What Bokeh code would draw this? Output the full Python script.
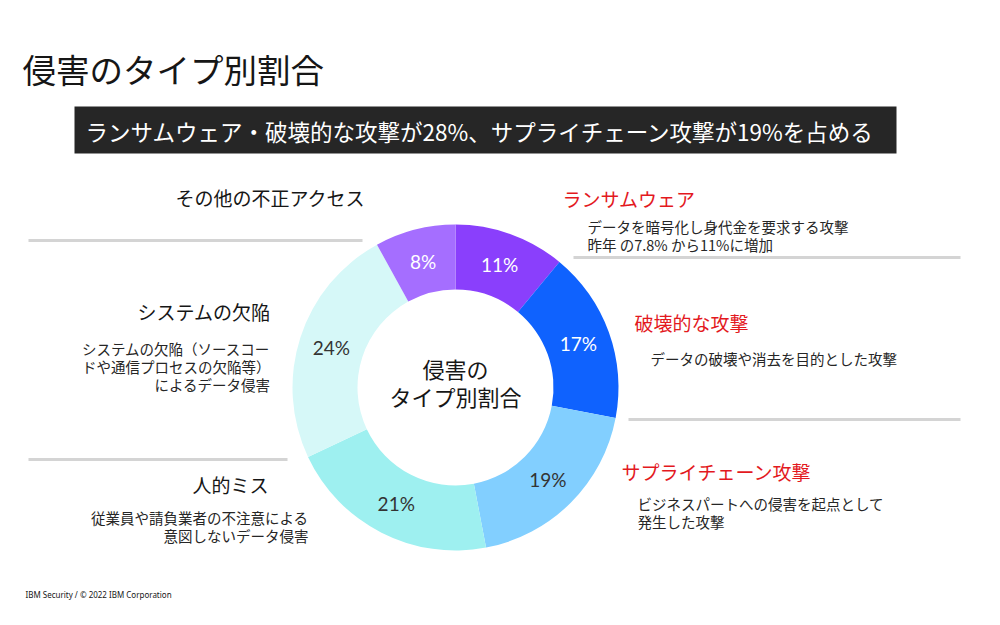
import math
from bokeh.plotting import figure
from bokeh.models import Range1d, ColumnDataSource
from bokeh.core.properties import value
from bokeh.embed import file_html
from bokeh.resources import INLINE

# ---- data ----
categories = ["ランサムウェア", "破壊的な攻撃", "サプライチェーン攻撃", "人的ミス", "システムの欠陥", "その他の不正アクセス"]
shares = [11, 17, 19, 21, 24, 8]
slice_colors = ["#8a3ffc", "#0f62fe", "#82cfff", "#9ef0f0", "#d6f8f8", "#a56eff"]
label_colors = ["#ffffff", "#ffffff", "#333333", "#333333", "#333333", "#ffffff"]

title_text = "侵害のタイプ別割合"
banner_text = "ランサムウェア・破壊的な攻撃が28%、サプライチェーン攻撃が19%を占める"
center_lines = ["侵害の", "タイプ別割合"]
footer_text = "IBM Security / © 2022 IBM Corporation"

right_heads = ["ランサムウェア", "破壊的な攻撃", "サプライチェーン攻撃"]
right_descs = [["データを暗号化し身代金を要求する攻撃", "昨年 の7.8% から11%に増加"],
               ["データの破壊や消去を目的とした攻撃"],
               ["ビジネスパートへの侵害を起点として", "発生した攻撃"]]
left_heads = ["その他の不正アクセス", "システムの欠陥", "人的ミス"]
left_descs = [[],
              ["システムの欠陥（ソースコー", "ドや通信プロセスの欠陥等）", "によるデータ侵害"],
              ["従業員や請負業者の不注意による", "意図しないデータ侵害"]]

JP = "Noto Sans CJK JP"
H = 625
def Y(py):
    return H - py

p = figure(width=984, height=609, output_backend="svg", toolbar_location=None,
           x_range=Range1d(0, 984), y_range=Range1d(16, 625), min_border=0)
p.axis.visible = False
p.grid.visible = False
p.outline_line_color = None
p.background_fill_color = "white"
p.border_fill_color = "white"

# title
p.text(x=[22], y=[Y(68)], text=[title_text], text_font=value(JP), text_font_size="33.5px",
       text_color="#161616", text_baseline="middle", text_align="left")

# banner
p.quad(left=[74], right=[896], top=[Y(106)], bottom=[Y(153)], fill_color="#262626", line_color=None)
p.text(x=[85], y=[Y(130)], text=[banner_text], text_font=value(JP), text_font_size="22.5px",
       text_color="#ffffff", text_baseline="middle", text_align="left")

# donut
cx, cy = 455, Y(387)
r_in, r_out = 98, 163
total = float(sum(shares))
cum = 0.0
starts, ends, mids = [], [], []
for s in shares:
    a0 = cum / total
    cum += s
    a1 = cum / total
    starts.append(math.pi / 2 - 2 * math.pi * a1)
    ends.append(math.pi / 2 - 2 * math.pi * a0)
    mids.append(math.pi / 2 - 2 * math.pi * (a0 + a1) / 2)
src = ColumnDataSource(dict(start=starts, end=ends, color=slice_colors, cat=categories))
p.annular_wedge(x=cx, y=cy, inner_radius=r_in, outer_radius=r_out, inner_radius_units="screen",
                outer_radius_units="screen", start_angle="start", end_angle="end",
                fill_color="color", line_color=None, source=src)

r_lab = (r_in + r_out) / 2
lx = [cx + r_lab * math.cos(m) for m in mids]
ly = [cy + r_lab * math.sin(m) for m in mids]
p.text(x=lx, y=ly, text=[f"{s}%" for s in shares], text_color=label_colors,
       text_font=value("Lato"), text_font_size="19px", text_align="center", text_baseline="middle")

# center text
p.text(x=[cx, cx], y=[Y(367), Y(395)], text=center_lines, text_font=value(JP), text_font_size="22px",
       text_color="#161616", text_align="center", text_baseline="middle")

# separator lines
p.segment(x0=[28, 28, 573, 628], x1=[362, 287, 960, 960], y0=[Y(240), Y(459), Y(257), Y(419)],
          y1=[Y(240), Y(459), Y(257), Y(419)], line_color="#d4d4d4", line_width=3)

# right annotations
red = "#e3191e"
rh_x = [562, 634, 621]
rh_y = [198, 322, 471]
rd_x = [587, 650, 637]
rd_y = [226, 358, 503]
for i in range(3):
    p.text(x=[rh_x[i]], y=[Y(rh_y[i])], text=[right_heads[i]], text_font=value(JP), text_font_size="19px",
           text_color=red, text_align="left", text_baseline="middle")
    ys = [Y(rd_y[i] + 18 * k) for k in range(len(right_descs[i]))]
    p.text(x=[rd_x[i]] * len(ys), y=ys, text=right_descs[i], text_font=value(JP), text_font_size="14.5px",
           text_color="#262626", text_align="left", text_baseline="middle")

# left annotations
lh_x = [365, 270, 268]
lh_y = [197, 311, 484]
ld_x = [0, 270, 308]
ld_y = [0, 348, 517]
for i in range(3):
    p.text(x=[lh_x[i]], y=[Y(lh_y[i])], text=[left_heads[i]], text_font=value(JP), text_font_size="19px",
           text_color="#161616", text_align="right", text_baseline="middle")
    if left_descs[i]:
        ys = [Y(ld_y[i] + 18 * k) for k in range(len(left_descs[i]))]
        p.text(x=[ld_x[i]] * len(ys), y=ys, text=left_descs[i], text_font=value(JP), text_font_size="14.5px",
               text_color="#262626", text_align="right", text_baseline="middle")

# footer
p.text(x=[25], y=[Y(594)], text=[footer_text], text_font=value("Noto Sans"), text_font_size="8px",
       text_color="#161616", text_align="left", text_baseline="middle")

open("out.html", "w").write(file_html(p, INLINE))
